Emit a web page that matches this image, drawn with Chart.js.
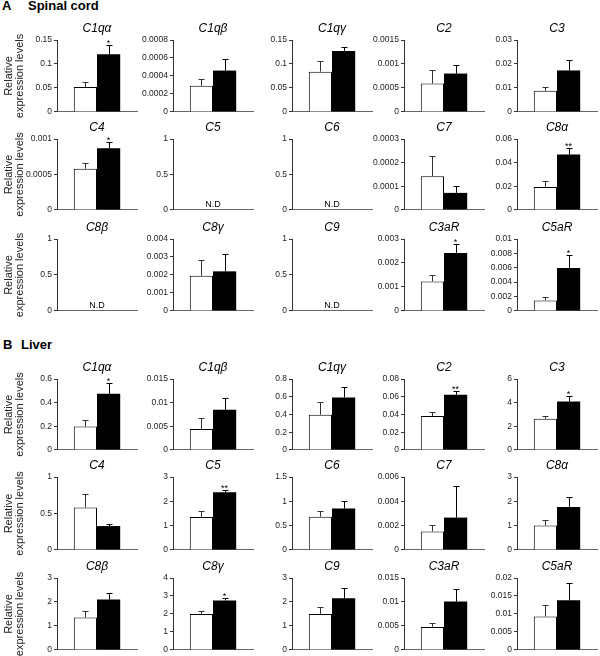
<!DOCTYPE html>
<html>
<head>
<meta charset="utf-8">
<script src="https://cdn.jsdelivr.net/npm/chart.js@4.4.1/dist/chart.umd.min.js"></script>
<style>
body { margin: 0; background: #fff; }
#page { position: relative; width: 600px; height: 656px; overflow: hidden; font-family: 'Liberation Sans', Arial, sans-serif; }
#page canvas { position: absolute; }
.head { position: absolute; font-weight: bold; font-size: 13px; line-height: 13px; color: #000; }
</style>
</head>
<body>
<div id="page">
    <div class="head" style="left:2px;top:-1px">A</div>
    <div class="head" style="left:28px;top:-1px">Spinal cord</div>
    <div class="head" style="left:3px;top:338px">B</div>
    <div class="head" style="left:21px;top:338px">Liver</div>
</div>
<script>
var genes = ['C1qα', 'C1qβ', 'C1qγ', 'C2', 'C3', 'C4', 'C5', 'C6', 'C7', 'C8α', 'C8β', 'C8γ', 'C9', 'C3aR', 'C5aR'];

// A: spinal cord (null = not detected)
var spinalMax = [0.15, 0.0008, 0.15, 0.0015, 0.03, 0.001, 1, 1, 0.0003, 0.06, 1, 0.004, 1, 0.003, 0.01];
var spinalStep = [0.05, 0.0002, 0.05, 0.0005, 0.01, 0.0005, 0.5, 0.5, 0.0001, 0.02, 0.5, 0.001, 0.5, 0.001, 0.002];
var spinalOpen = [0.052, 0.00029, 0.084, 0.00059, 0.0088, 0.00058, null, null, 0.000142, 0.0193, null, 0.00195, null, 0.00123, 0.00145];
var spinalOpenErr = [0.01, 0.00008, 0.023, 0.00029, 0.0016, 0.000084, null, null, 0.000088, 0.005, null, 0.0009, null, 0.00027, 0.00045];
var spinalFilled = [0.1205, 0.00046, 0.127, 0.0008, 0.0173, 0.00087, null, null, 0.000072, 0.0468, null, 0.0022, null, 0.00242, 0.00595];
var spinalFilledErr = [0.02, 0.000125, 0.0085, 0.00018, 0.0044, 0.000084, null, null, 0.000031, 0.0055, null, 0.00097, null, 0.00036, 0.0018];
var spinalSig = ['*', '', '', '', '', '*', '', '', '', '**', '', '', '', '*', '*'];

// B: liver
var liverMax = [0.6, 0.015, 0.8, 0.08, 6, 1, 3, 1.5, 0.006, 3, 3, 4, 3, 0.015, 0.02];
var liverStep = [0.2, 0.005, 0.2, 0.02, 2, 0.5, 1, 0.5, 0.002, 1, 1, 1, 1, 0.005, 0.005];
var liverOpen = [0.197, 0.0044, 0.397, 0.0383, 2.63, 0.58, 1.35, 0.684, 0.00152, 1.0, 1.35, 2.0, 1.5, 0.0048, 0.0093];
var liverOpenErr = [0.055, 0.0023, 0.14, 0.0043, 0.27, 0.19, 0.27, 0.115, 0.0005, 0.23, 0.28, 0.15, 0.28, 0.0008, 0.0032];
var liverFilled = [0.475, 0.0085, 0.592, 0.0622, 4.1, 0.327, 2.37, 0.852, 0.00266, 1.77, 2.1, 2.75, 2.16, 0.0101, 0.0138];
var liverFilledErr = [0.094, 0.0024, 0.12, 0.0048, 0.45, 0.033, 0.1, 0.15, 0.0026, 0.41, 0.27, 0.12, 0.44, 0.0026, 0.0049];
var liverSig = ['*', '', '', '**', '*', '', '**', '', '', '', '', '*', '', '', ''];

var colX = [57, 173, 292, 404, 517];
var spinalRows = [[40, 113], [139, 211], [239, 312]];
var liverRows = [[379, 451], [477, 551], [578, 651]];
var plotW = 80;
var tickFont = "'Liberation Sans Narrow', 'Liberation Sans', Arial, sans-serif";
var textFont = "'Liberation Sans', Arial, sans-serif";

var extras = {
    id: 'extras',
    afterDraw: function (chart) {
        var o = chart.options.plugins.extras;
        var ctx = chart.ctx;
        var area = chart.chartArea;
        var y = chart.scales.y;
        var cx = (area.left + area.right) / 2;
        ctx.save();
        ctx.fillStyle = '#000';
        ctx.textAlign = 'center';
        ctx.font = 'italic 12px ' + textFont;
        ctx.textBaseline = 'middle';
        ctx.fillText(o.title, cx, area.top - 11);
        ctx.textBaseline = 'alphabetic';
        if (o.nd) {
            ctx.font = '9px ' + textFont;
            ctx.fillText('N.D', cx, area.bottom - 3);
        } else {
            var capTop = 0;
            chart.data.datasets.forEach(function (ds, i) {
                var bar = chart.getDatasetMeta(i).data[0];
                var x = Math.round(bar.x) + 0.5;
                var top = Math.round(y.getPixelForValue(ds.data[0] + ds.err)) + 0.5;
                ctx.strokeStyle = i == 0 ? '#333' : '#000';
                ctx.lineWidth = 1;
                ctx.beginPath();
                ctx.moveTo(x, bar.y);
                ctx.lineTo(x, top);
                ctx.moveTo(x - 3, top);
                ctx.lineTo(x + 3, top);
                ctx.stroke();
                capTop = top;
            });
            if (o.sig) {
                var last = chart.getDatasetMeta(1).data[0];
                ctx.font = '9px ' + textFont;
                ctx.fillText(o.sig, last.x, capTop + 0.5);
            }
        }
        ctx.restore();
    }
};

function fmt(v) {
    return String(parseFloat(v.toFixed(8)));
}

function drawCell(col, row, rows, gene, max, step, a, aErr, b, bErr, sig) {
    var first = col == 0;
    var yw = first ? colX[0] : 40;
    var top = rows[row][0], bottom = rows[row][1];
    var padTop = 22, padBottom = 6, padRight = 3;
    var canvas = document.createElement('canvas');
    canvas.width = yw + plotW + padRight;
    canvas.height = padTop + (bottom - top) + padBottom;
    canvas.style.left = (colX[col] - yw) + 'px';
    canvas.style.top = (top - padTop) + 'px';
    document.getElementById('page').appendChild(canvas);

    new Chart(canvas.getContext('2d'), {
        type: 'bar',
        data: {
            labels: [''],
            datasets: [{
                data: [a],
                err: aErr,
                backgroundColor: '#fff',
                borderColor: '#000',
                borderWidth: 1
            }, {
                data: [b],
                err: bErr,
                backgroundColor: '#000',
                borderColor: '#000',
                borderWidth: 0
            }]
        },
        options: {
            responsive: false,
            animation: false,
            events: [],
            devicePixelRatio: 1,
            categoryPercentage: 0.58,
            barPercentage: 1,
            layout: { padding: { top: padTop, bottom: padBottom, right: padRight, left: 0 } },
            plugins: {
                legend: { display: false },
                tooltip: { enabled: false },
                extras: { title: gene, nd: a === null, sig: sig }
            },
            scales: {
                x: {
                    grid: { display: false },
                    border: { display: true, color: '#666', width: 1 },
                    ticks: { display: false },
                    afterFit: function (scale) { scale.height = 0; }
                },
                y: {
                    min: 0,
                    max: max,
                    grid: { display: true, drawOnChartArea: false, drawTicks: true, tickLength: 3, color: '#333' },
                    border: { display: true, color: '#333', width: 1 },
                    ticks: {
                        stepSize: step,
                        padding: 2,
                        color: '#222',
                        font: { size: 8.5, family: tickFont },
                        callback: fmt
                    },
                    title: {
                        display: first,
                        text: ['Relative', 'expression levels'],
                        color: '#222',
                        font: { size: 11, family: textFont, lineHeight: 1 },
                        padding: { top: 3.5, bottom: 0 }
                    },
                    afterFit: function (scale) { scale.width = yw; }
                }
            }
        },
        plugins: [extras]
    });
}

for (var i = 0; i < genes.length; i++) {
    var c = i % 5, r = Math.floor(i / 5);
    drawCell(c, r, spinalRows, genes[i], spinalMax[i], spinalStep[i], spinalOpen[i], spinalOpenErr[i], spinalFilled[i], spinalFilledErr[i], spinalSig[i]);
    drawCell(c, r, liverRows, genes[i], liverMax[i], liverStep[i], liverOpen[i], liverOpenErr[i], liverFilled[i], liverFilledErr[i], liverSig[i]);
}
</script>
</body>
</html>
